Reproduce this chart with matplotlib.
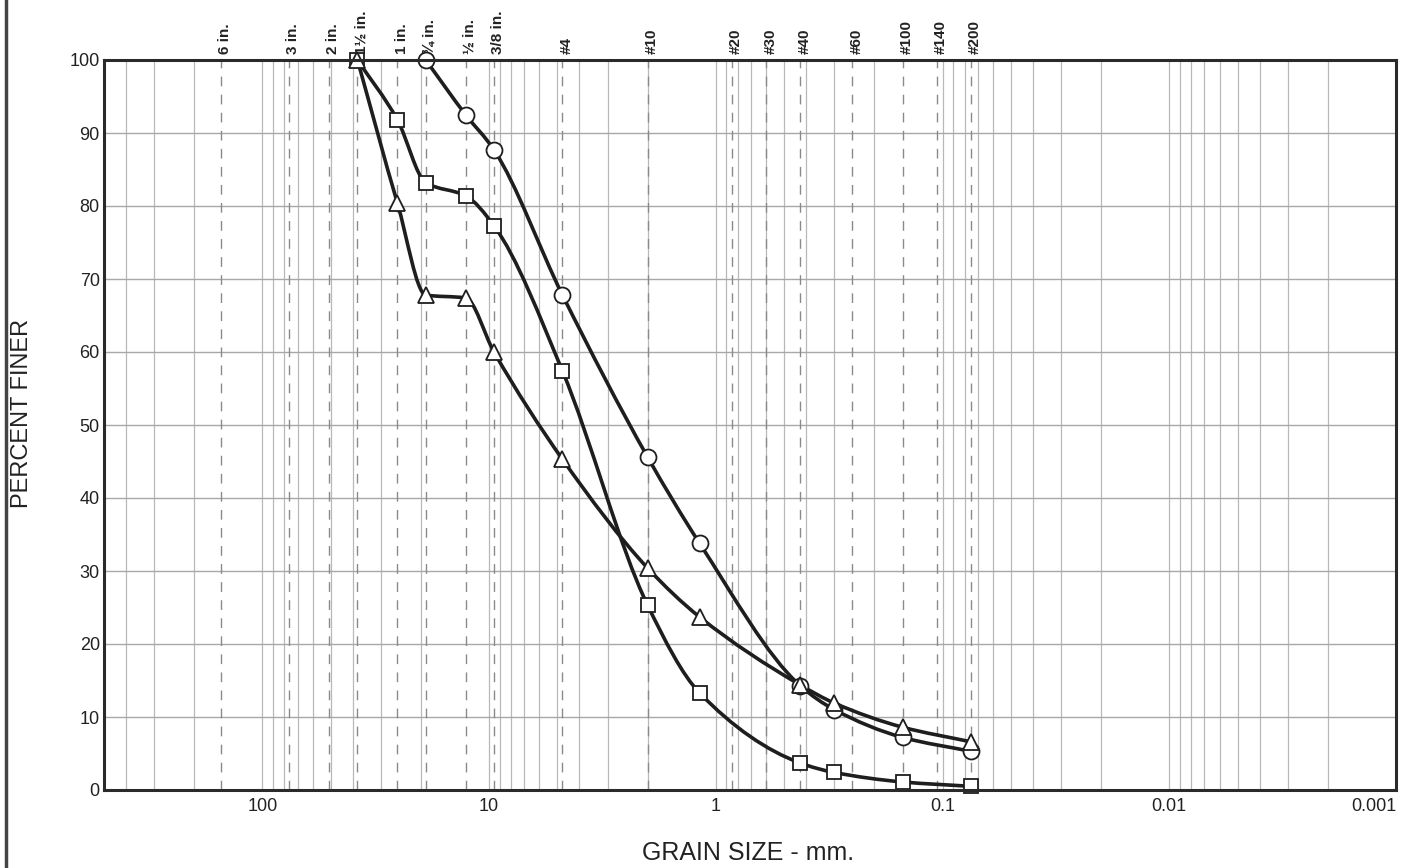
import numpy as np
import matplotlib
matplotlib.use("Agg")
import matplotlib.pyplot as plt
from matplotlib.path import Path
from matplotlib.patches import PathPatch
from matplotlib.lines import Line2D
import matplotlib.transforms as mtransforms

plt.rcParams['font.family'] = ['Liberation Sans', 'DejaVu Sans']

# Sieve openings (mm) and labels for the top axis
sieve_labels = ["6 in.", "3 in.", "2 in.", "1½ in.", "1 in.", "¾ in.", "½ in.", "3/8 in.",
                "#4", "#10", "#20", "#30", "#40", "#60", "#100", "#140", "#200"]
sieve_sizes = [152.4, 76.2, 50.8, 38.1, 25.4, 19.05, 12.7, 9.525,
               4.75, 2.0, 0.85, 0.6, 0.425, 0.25, 0.15, 0.106, 0.075]

# Test data (grain size mm, percent finer)
circle_size = [19.05, 12.7, 9.525, 4.75, 2.0, 1.18, 0.425, 0.3, 0.15, 0.075]
circle_pct = [100, 92.5, 87.7, 67.8, 45.6, 33.8, 14.3, 11.0, 7.2, 5.3]

square_size = [38.1, 25.4, 19.05, 12.7, 9.525, 4.75, 2.0, 1.18, 0.425, 0.3, 0.15, 0.075]
square_pct = [100, 91.8, 83.2, 81.4, 77.3, 57.4, 25.3, 13.3, 3.7, 2.4, 1.1, 0.5]

triangle_size = [38.1, 25.4, 19.05, 12.7, 9.525, 4.75, 2.0, 1.18, 0.425, 0.3, 0.15, 0.075]
triangle_pct = [100, 80.4, 67.8, 67.4, 60.0, 45.3, 30.4, 23.7, 14.4, 11.9, 8.6, 6.6]

x_ticks = [100, 10, 1, 0.1, 0.01, 0.001]
x_ticklabels = ["100", "10", "1", "0.1", "0.01", "0.001"]
y_ticks = [0, 10, 20, 30, 40, 50, 60, 70, 80, 90, 100]

fig = plt.figure(figsize=(14.11, 8.68), dpi=100)
ax = fig.add_axes([104/1411, 1-790/868, (1396-104)/1411, (790-60)/868])
ax.set_xscale('log')
ax.set_xlim(500, 0.001)
ax.set_ylim(0, 100)

# vertical grid: 1..9 per decade
for d in range(-3, 3):
    for m in range(1, 10):
        v = m * 10.0**d
        if 0.001 < v < 500:
            ax.axvline(v, color='#b8b8b8', lw=0.9, zorder=1)
# sieve dashed lines
for s in sieve_sizes:
    ax.axvline(s, color='#8a8a8a', lw=1.0, ls=(0, (7, 6)), zorder=1.2)
# horizontal grid
for t in y_ticks[1:-1]:
    ax.axhline(t, color='#a8a8a8', lw=1.0, zorder=1)


def smooth_curve(xs, ys):
    """Monotone cubic (Fritsch-Carlson) curve through the points, in log-x space,
    expressed as Bezier segments."""
    u = np.log10(np.asarray(xs, float))[::-1]
    y = np.asarray(ys, float)[::-1]
    n = len(u)
    h = np.diff(u)
    dlt = np.diff(y) / h
    m = np.zeros(n)
    m[0], m[-1] = dlt[0], dlt[-1]
    for k in range(1, n - 1):
        if dlt[k-1] * dlt[k] <= 0:
            m[k] = 0.0
        else:
            w1 = 2 * h[k] + h[k-1]
            w2 = h[k] + 2 * h[k-1]
            m[k] = (w1 + w2) / (w1 / dlt[k-1] + w2 / dlt[k])
    verts = [(u[0], y[0])]
    codes = [Path.MOVETO]
    for k in range(n - 1):
        c1 = (u[k] + h[k] / 3, y[k] + m[k] * h[k] / 3)
        c2 = (u[k+1] - h[k] / 3, y[k+1] - m[k+1] * h[k] / 3)
        verts += [c1, c2, (u[k+1], y[k+1])]
        codes += [Path.CURVE4] * 3
    verts = [(10**a, b) for a, b in verts]
    return Path(verts, codes)


for xs, ys, mk in [(circle_size, circle_pct, 'o'),
                   (square_size, square_pct, 's'),
                   (triangle_size, triangle_pct, '^')]:
    patch = PathPatch(smooth_curve(xs, ys), facecolor='none', edgecolor='#1e1e1e',
                      lw=2.6, zorder=3, transform=ax.transData)
    ax.add_patch(patch)
    ax.plot(xs, ys, linestyle='none', marker=mk, markersize=11.5 if mk != 's' else 10.5,
            markerfacecolor='white', markeredgecolor='#1e1e1e', markeredgewidth=1.3,
            zorder=4, clip_on=False)

ax.set_xticks(x_ticks)
ax.set_xticklabels(x_ticklabels)
ax.xaxis.set_minor_locator(matplotlib.ticker.NullLocator())
ax.set_yticks(y_ticks)
ax.tick_params(axis='both', length=0, labelsize=13, colors='#222')
ax.tick_params(axis='y', pad=3)
ax.tick_params(axis='x', pad=6)
for lbl in ax.get_xticklabels():
    if lbl.get_text() == "0.001":
        lbl.set_horizontalalignment('right')

for sp in ax.spines.values():
    sp.set_color('#2a2a2a')
    sp.set_linewidth(2.2)
    sp.set_zorder(5)

trans = mtransforms.blended_transform_factory(ax.transData, ax.transAxes)
for s, lab in zip(sieve_sizes, sieve_labels):
    ax.annotate(lab, xy=(s, 1.0), xycoords=trans, xytext=(3, 4), textcoords='offset points',
                rotation=90, ha='center', va='bottom', fontsize=11, fontweight='bold', color='#222')

fig.text(22/1411, 1-413/868, "PERCENT FINER", rotation=90, ha='center', va='center',
         fontsize=17, color='#222')
fig.text(748/1411, 1-853/868, "GRAIN SIZE - mm.", ha='center', va='center',
         fontsize=18, color='#222')

fig.add_artist(Line2D([0.004, 0.004], [0, 1], transform=fig.transFigure, color='#444', lw=2.5))

fig.savefig("out.png", dpi=100)
